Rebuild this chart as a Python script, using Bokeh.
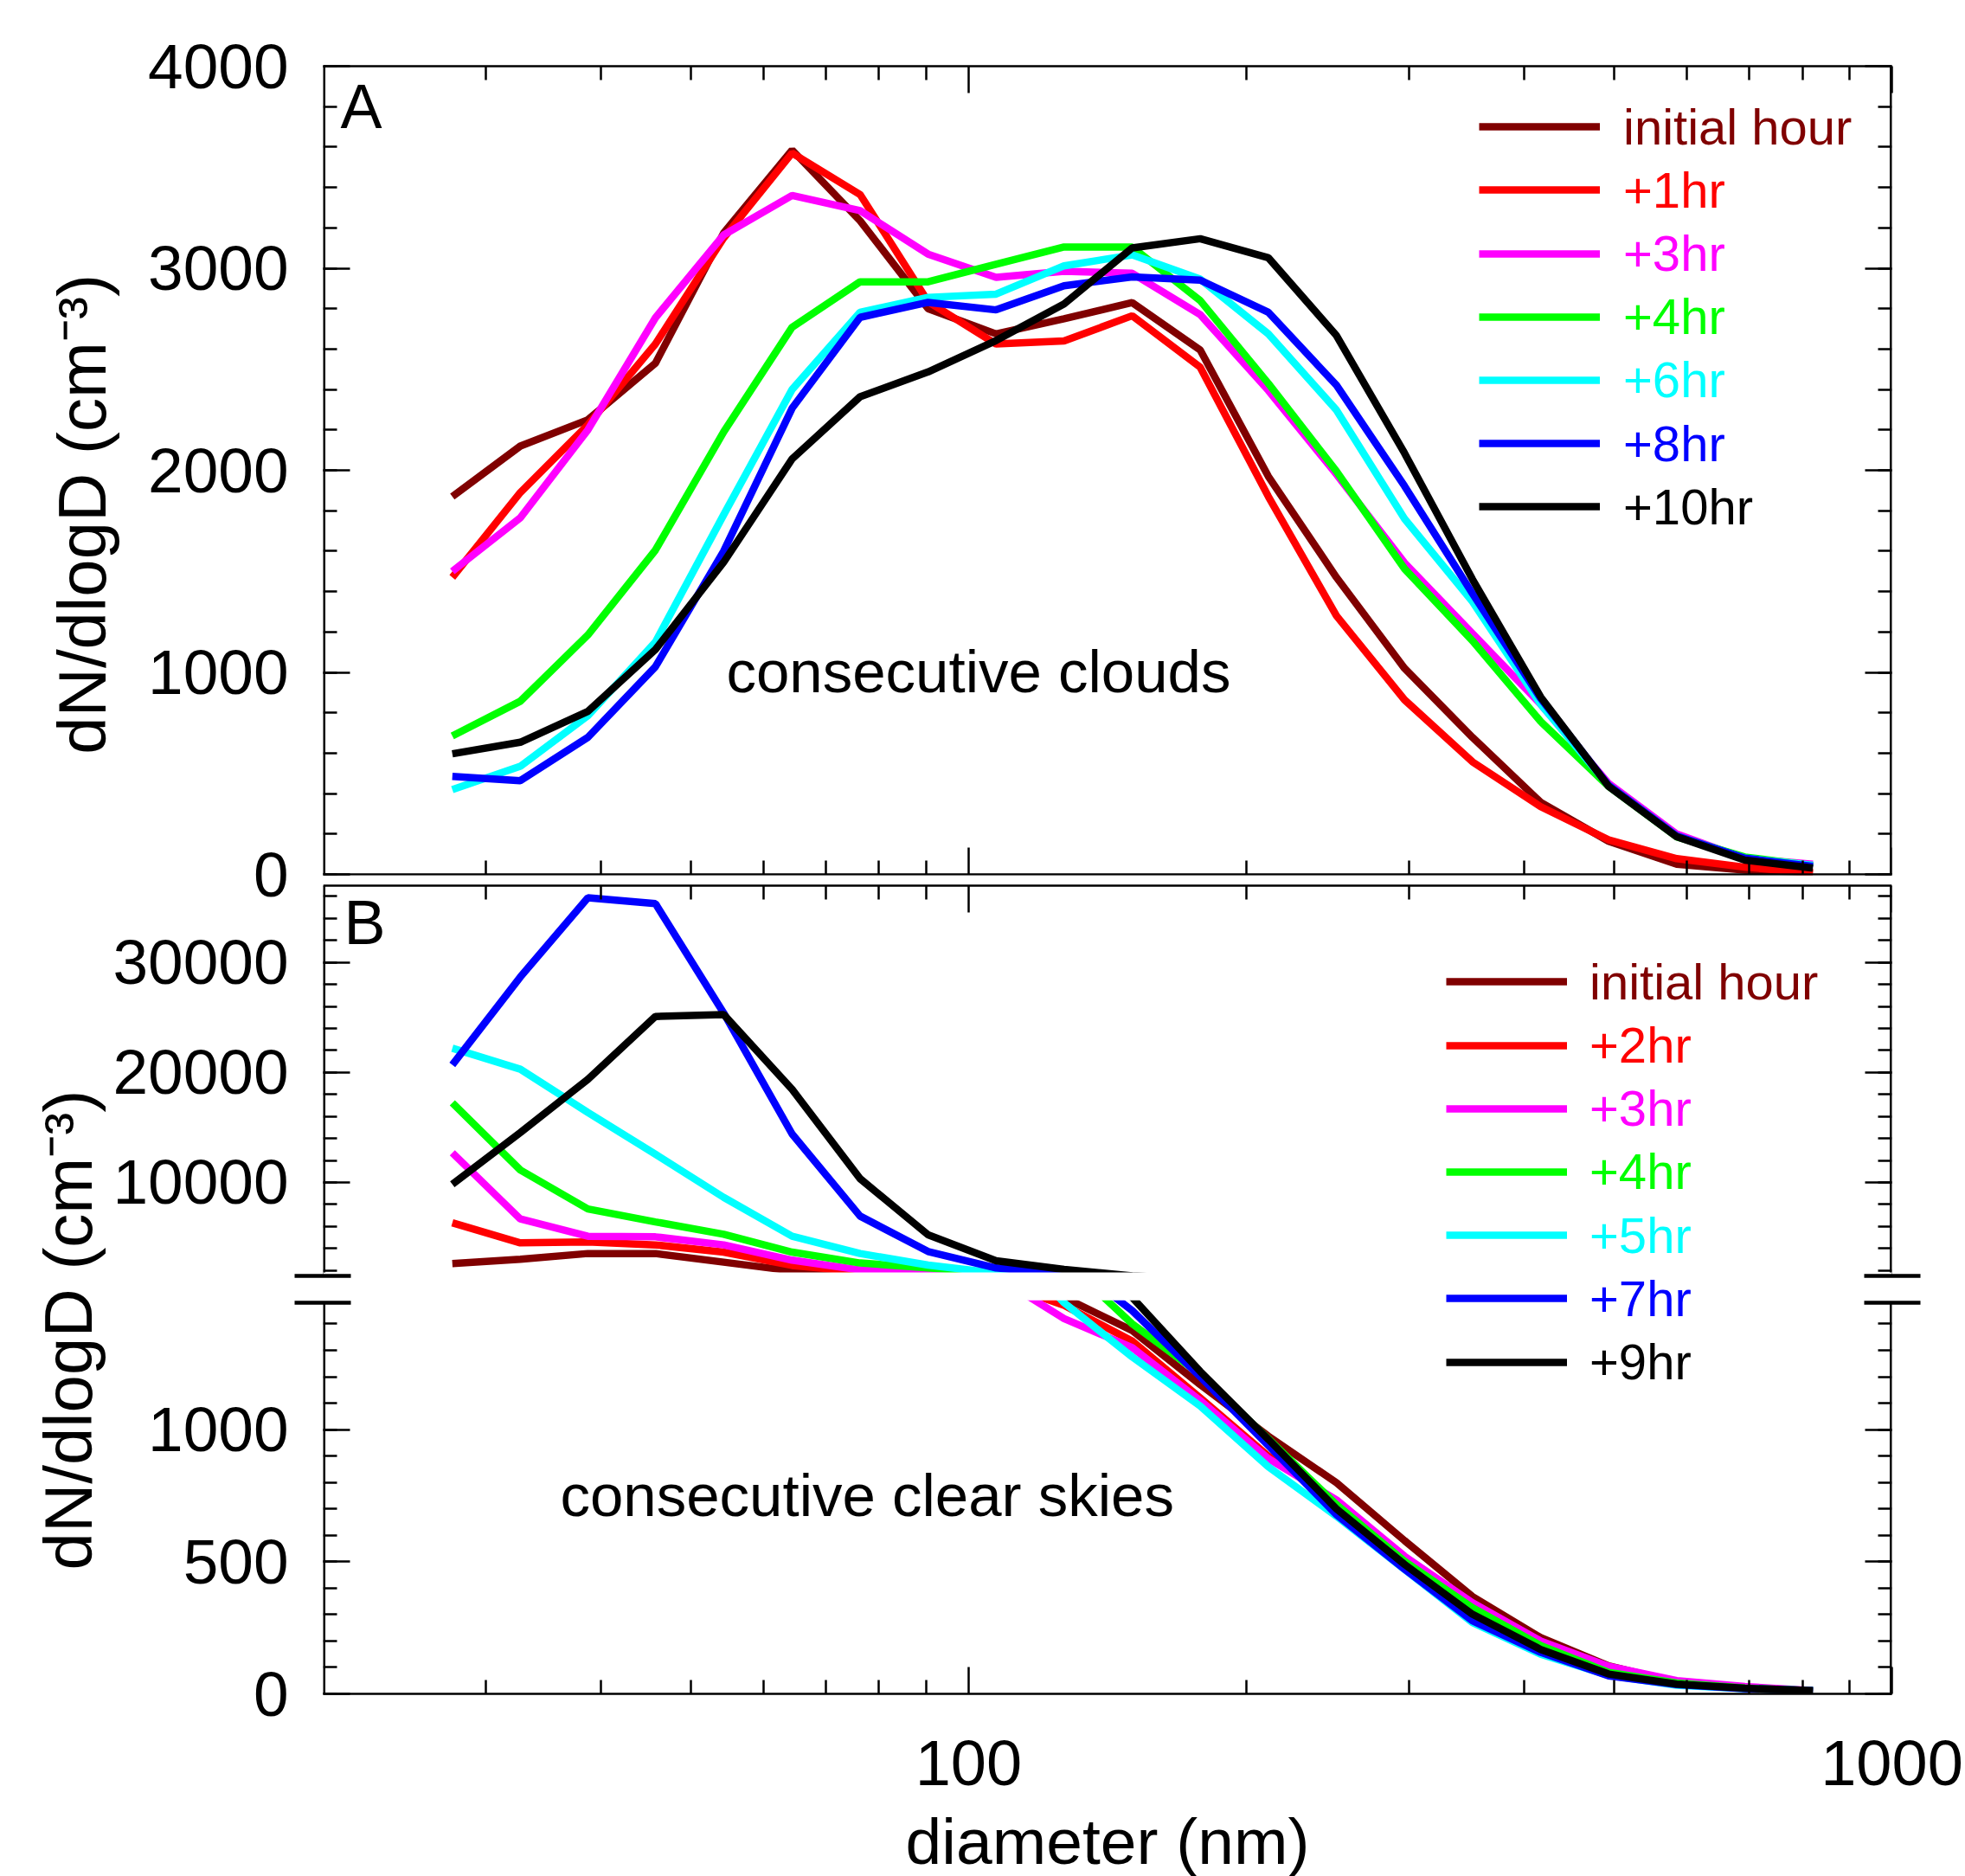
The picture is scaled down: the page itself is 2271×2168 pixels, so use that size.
import math
from bokeh.plotting import figure
from bokeh.models import (Range1d, LinearAxis, LogAxis, LogScale, FixedTicker, NumeralTickFormatter,
                          CustomJSTickFormatter, Legend, LegendItem, Label, BoxAnnotation)
from bokeh.embed import file_html
from bokeh.resources import INLINE

# ---------------- data ----------------
diameter_nm = [27.6, 32.7, 38.7, 45.8, 54.3, 64.4, 76.3, 90.4, 107.1, 126.9, 150.4,
               178.2, 211.2, 250.3, 296.6, 351.4, 416.5, 493.5, 584.8, 693.0, 821.2]

# Panel A: consecutive clouds
cloud_labels = ["initial hour", "+1hr", "+3hr", "+4hr", "+6hr", "+8hr", "+10hr"]
cloud_initial = [1870, 2120, 2250, 2530, 3175, 3585, 3235, 2800, 2675, 2750, 2830,
                 2595, 1970, 1470, 1020, 678, 357, 164, 50, 21, 11]
cloud_1hr = [1470, 1890, 2225, 2625, 3150, 3570, 3365, 2835, 2625, 2640, 2765,
             2510, 1870, 1280, 864, 557, 335, 171, 78, 36, 7]
cloud_3hr = [1500, 1765, 2200, 2755, 3165, 3360, 3285, 3070, 2955, 2985, 2975,
             2770, 2395, 1980, 1542, 1192, 842, 450, 200, 78, 50]
cloud_4hr = [685, 857, 1185, 1605, 2190, 2708, 2933, 2933, 3020, 3105, 3105,
             2840, 2430, 1995, 1513, 1156, 757, 435, 186, 86, 43]
cloud_6hr = [420, 535, 785, 1150, 1780, 2400, 2782, 2856, 2872, 3012, 3066,
             2946, 2675, 2298, 1760, 1350, 842, 440, 190, 80, 45]
cloud_8hr = [485, 464, 678, 1028, 1600, 2307, 2757, 2831, 2794, 2913, 2957,
             2941, 2782, 2421, 1922, 1390, 871, 440, 190, 80, 40]
cloud_10hr = [597, 654, 807, 1113, 1545, 2056, 2364, 2487, 2642, 2823, 3101,
              3146, 3052, 2667, 2085, 1460, 878, 435, 186, 71, 31]

# Panel B: consecutive clear skies
clear_labels = ["initial hour", "+2hr", "+3hr", "+4hr", "+5hr", "+7hr", "+9hr"]
clear_initial = [2616, 3009, 3535, 3535, 2749, 1964, 1650, 1580, 1540, 1500, 1375,
                 1170, 975, 799, 580, 368, 213, 106, 44, 24, 11]
clear_2hr = [6332, 4501, 4580, 4320, 3661, 2450, 1900, 1700, 1560, 1470, 1335,
             1120, 900, 725, 510, 340, 195, 100, 45, 25, 8]
clear_3hr = [12695, 6675, 5106, 5051, 4320, 2930, 2042, 1900, 1580, 1420, 1310,
             1110, 890, 734, 521, 345, 200, 104, 50, 28, 12]
clear_4hr = [17227, 11125, 7588, 6410, 5287, 3661, 2671, 2223, 1778, 1640, 1400,
             1210, 965, 716, 502, 326, 183, 81, 41, 22, 12]
clear_5hr = [22200, 20291, 16363, 12567, 8641, 5106, 3535, 2483, 1750, 1480, 1275,
             1089, 859, 672, 471, 270, 150, 70, 33, 20, 12]
clear_7hr = [20683, 28672, 35868, 35348, 25397, 14399, 6936, 3716, 2223, 1650, 1450,
             1200, 940, 678, 472, 276, 157, 68, 35, 20, 12]
clear_9hr = [9819, 14532, 19372, 25082, 25265, 18460, 10338, 5232, 2875, 2090, 1500,
             1220, 963, 700, 490, 301, 168, 75, 37, 21, 12]

series_colors = ["#800000", "#FF0000", "#FF00FF", "#00FF00", "#00FFFF", "#0000FF", "#000000"]

x_major_ticks = [100, 1000]
x_minor_ticks = [30, 40, 50, 60, 70, 80, 90, 200, 300, 400, 500, 600, 700, 800, 900]
a_major_ticks = [0, 1000, 2000, 3000, 4000]
a_minor_ticks = list(range(0, 4001, 200))
b_low_major = [0, 500, 1000]
b_low_minor = list(range(0, 1401, 100))
b_up_major = [10000, 20000, 30000]
b_up_minor = list(range(2000, 36001, 2000))

# ---------------- layout constants (pixels) ----------------
FONT = "Liberation Sans"
PAGE_W = 2271
FRAME_W = 1813
BORDER_L = 373
BORDER_R = PAGE_W - BORDER_L - FRAME_W
Y_TOP = 76            # frame top (panel A top)
Y_A_BOT = 1010        # panel A bottom
Y_B_TOP = 1022.7      # panel B top
Y_BRK_UP = 1474       # bottom of B upper section
Y_BRK_LO = 1505       # top of B lower section
Y_BOT = 1957          # frame bottom
FH = Y_BOT - Y_TOP
X_MIN, X_MAX = 20, 1000
LINE_W = 8.5
AX_W = 2.5

A_MAX = 4000
LOW_TOP, UP_BOT, UP_TOP = 1480, 1500, 37000


def s(y):  # pixel height above frame bottom
    return Y_BOT - y


def make_range(v0, y0, v1, y1):
    k = (s(y1) - s(y0)) / (v1 - v0)
    return Range1d(v0 - s(y0) / k, v0 + (FH - s(y0)) / k), k


rng_low, k_low = make_range(0, Y_BOT, LOW_TOP, Y_BRK_LO)
rng_up, k_up = make_range(UP_BOT, Y_BRK_UP, UP_TOP, Y_B_TOP)
rng_a, k_a = make_range(0, Y_A_BOT, A_MAX, Y_TOP)


def px_to_low(y):
    return s(y) / k_low


def a_to_low(v):
    return min((s(Y_A_BOT) + v * k_a) / k_low, rng_low.end - 1e-6)


def up_to_low(v):
    return (s(Y_BRK_UP) + (v - UP_BOT) * k_up) / k_low


p = figure(x_range=Range1d(X_MIN, X_MAX), y_range=rng_low,
           x_axis_type="log", x_axis_location=None, y_axis_location=None,
           frame_width=FRAME_W, frame_height=FH,
           min_border_left=BORDER_L, min_border_right=BORDER_R,
           min_border_top=Y_TOP, min_border_bottom=211,
           output_backend="svg", toolbar_location=None,
           background_fill_color="white", border_fill_color="white")
p.x_scale = LogScale()
p.extra_y_ranges = {"a": rng_a, "up": rng_up}
p.outline_line_color = None
p.grid.visible = False


def blank_fmt():
    return CustomJSTickFormatter(code="return ''")


def no_labels(ax):
    ax.major_label_text_font_size = "0px"
    ax.major_label_standoff = 0


# ---- main y axes (outside the frame): tick labels, major ticks, break marks ----
y_major_pos = ([a_to_low(v) for v in a_major_ticks]
               + [up_to_low(v) for v in b_up_major] + list(b_low_major))
y_major_lab = [str(v) for v in a_major_ticks] + [str(v) for v in b_up_major] + [str(v) for v in b_low_major]
break_pos = [LOW_TOP, up_to_low(UP_BOT)]

y_fmt = CustomJSTickFormatter(args=dict(pos=y_major_pos, lab=y_major_lab), code="""
for (let i = 0; i < pos.length; i++) { if (Math.abs(tick - pos[i]) < 1e-3) return lab[i]; }
return '';
""")

BREAK_OUT = 33


def main_y_axis(side, labels):
    ax = LinearAxis(ticker=FixedTicker(ticks=y_major_pos, minor_ticks=break_pos),
                    formatter=y_fmt if labels else blank_fmt(), level="overlay")
    ax.axis_line_color = None
    ax.major_tick_line_color = "black"
    ax.major_tick_line_width = AX_W
    ax.major_tick_in = 31
    ax.major_tick_out = 0
    ax.minor_tick_line_color = "black"
    ax.minor_tick_line_width = 4.5
    ax.minor_tick_in = 32
    ax.minor_tick_out = BREAK_OUT
    if labels:
        ax.major_label_text_font = FONT
        ax.major_label_text_font_size = "73px"
        ax.major_label_text_color = "black"
        ax.major_label_standoff = 40 - BREAK_OUT
    else:
        no_labels(ax)
    p.add_layout(ax, side)


main_y_axis("left", True)
main_y_axis("right", False)

# ---- y titles (axis labels are centred on the frame; no-break spaces shift them) ----
TITLE_Y = "dN/dlogD (cm\u207b\u00b3)"
NB = "\u00a0"


def title_axis(text, standoff):
    ax = LinearAxis(ticker=FixedTicker(ticks=[]), formatter=blank_fmt(), axis_label=text)
    ax.axis_line_color = None
    ax.major_tick_line_color = None
    ax.minor_tick_line_color = None
    no_labels(ax)
    ax.axis_label_text_font = FONT
    ax.axis_label_text_font_size = "78px"
    ax.axis_label_text_font_style = "normal"
    ax.axis_label_text_color = "black"
    ax.axis_label_standoff = standoff
    p.add_layout(ax, "left")


title_axis(NB * 39 + TITLE_Y, -11)   # panel A title (shifted up)
title_axis(TITLE_Y + NB * 48, -75)   # panel B title (shifted down)


# ---- section spines + minor ticks (inside the frame) ----
def section_axis(side, range_name, bounds, minor):
    ax = LinearAxis(y_range_name=range_name, fixed_location=X_MIN if side == "left" else X_MAX,
                    bounds=bounds, ticker=FixedTicker(ticks=[], minor_ticks=minor),
                    formatter=blank_fmt())
    ax.axis_line_color = "black"
    ax.axis_line_width = 2 * AX_W
    ax.major_tick_line_color = None
    ax.minor_tick_line_color = "black"
    ax.minor_tick_line_width = AX_W
    ax.minor_tick_in = 16
    ax.minor_tick_out = 0
    no_labels(ax)
    p.add_layout(ax, side)


for side in ("left", "right"):
    section_axis(side, "a", (0, A_MAX), a_minor_ticks)
    section_axis(side, "up", (UP_BOT, UP_TOP), b_up_minor)
    section_axis(side, "default", (0, LOW_TOP), b_low_minor)


# ---- x axes ----
def x_axis(side, labels, range_name=None, loc=None, title=None):
    kw = {}
    if loc is not None:
        kw = dict(y_range_name=range_name, fixed_location=loc)
    ax = LogAxis(ticker=FixedTicker(ticks=x_major_ticks, minor_ticks=x_minor_ticks),
                 formatter=NumeralTickFormatter(format="0") if labels else blank_fmt(), **kw)
    ax.axis_line_color = "black"
    ax.axis_line_width = AX_W
    ax.major_tick_line_color = "black"
    ax.minor_tick_line_color = "black"
    ax.major_tick_line_width = AX_W
    ax.minor_tick_line_width = AX_W
    ax.major_tick_in = 31
    ax.major_tick_out = 0
    ax.minor_tick_in = 16
    ax.minor_tick_out = 0
    if labels:
        ax.major_label_text_font = FONT
        ax.major_label_text_font_size = "74px"
        ax.major_label_text_color = "black"
        ax.major_label_standoff = 54
    else:
        no_labels(ax)
    if title is not None:
        ax.axis_label = title
        ax.axis_label_text_font = FONT
        ax.axis_label_text_font_size = "75px"
        ax.axis_label_text_font_style = "normal"
        ax.axis_label_text_color = "black"
        ax.axis_label_standoff = 20
    p.add_layout(ax, side)


x_axis("above", False)
x_axis("below", False, "a", 0)
x_axis("above", False, "up", UP_TOP)
x_axis("below", True, title="diameter (nm)")

# ---------------- lines ----------------
clear_series = [clear_initial, clear_2hr, clear_3hr, clear_4hr, clear_5hr, clear_7hr, clear_9hr]
cloud_series = [cloud_initial, cloud_1hr, cloud_3hr, cloud_4hr, cloud_6hr, cloud_8hr, cloud_10hr]

# B lower section (drawn first, hidden above the break by a white mask)
for vals, col in zip(clear_series, series_colors):
    p.line(diameter_nm, vals, line_color=col, line_width=LINE_W, level="image")
p.add_layout(BoxAnnotation(bottom=px_to_low(Y_BRK_LO - 3), fill_color="white", fill_alpha=1.0,
                           line_alpha=0, level="underlay"))

a_renderers = [p.line(diameter_nm, vals, line_color=col, line_width=LINE_W, y_range_name="a")
               for vals, col in zip(cloud_series, series_colors)]
b_renderers = [p.line(diameter_nm, vals, line_color=col, line_width=LINE_W, y_range_name="up")
               for vals, col in zip(clear_series, series_colors)]

# white bands in the gaps between sections
p.add_layout(BoxAnnotation(bottom=px_to_low(Y_BRK_LO - 3), top=px_to_low(Y_BRK_UP - 4),
                           fill_color="white", fill_alpha=1.0, line_alpha=0, level="guide"))
p.add_layout(BoxAnnotation(bottom=px_to_low(Y_B_TOP - 1.3), top=px_to_low(Y_A_BOT + 1.3),
                           fill_color="white", fill_alpha=1.0, line_alpha=0, level="guide"))

# ---------------- legends ----------------
ROW_STEP = 73.2


def add_legend(renderer, label, color, lx, y_center, standoff):
    leg = Legend(items=[LegendItem(label=label, renderers=[renderer])],
                 location=(lx, s(y_center) - 40),
                 glyph_width=140, glyph_height=80, label_height=80, label_width=10,
                 label_standoff=standoff, padding=0, margin=0, spacing=0,
                 border_line_alpha=0, background_fill_alpha=0,
                 label_text_font=FONT, label_text_font_size="58px", label_text_color=color)
    p.add_layout(leg)


for i, (r, lab, col) in enumerate(zip(a_renderers, cloud_labels, series_colors)):
    add_legend(r, lab, col, 1336, 146.1 + i * ROW_STEP, 27)
for i, (r, lab, col) in enumerate(zip(b_renderers, clear_labels, series_colors)):
    add_legend(r, lab, col, 1298, 1134.3 + i * ROW_STEP, 26)

# ---------------- in-plot texts ----------------
BASE_FIX = 24


def add_text(text, x_off, y_baseline, size):
    p.add_layout(Label(x=X_MIN, y=0, x_offset=x_off, y_offset=s(y_baseline) + BASE_FIX, text=text,
                       text_font=FONT, text_font_size=size, text_color="black",
                       text_baseline="alphabetic"))


add_text("A", 20, 146, "72px")
add_text("B", 24, 1089, "72px")
add_text("consecutive clouds", 466, 800, "69px")
add_text("consecutive clear skies", 274, 1751.7, "69px")

open("out.html", "w").write(file_html(p, INLINE, "dN/dlogD"))
